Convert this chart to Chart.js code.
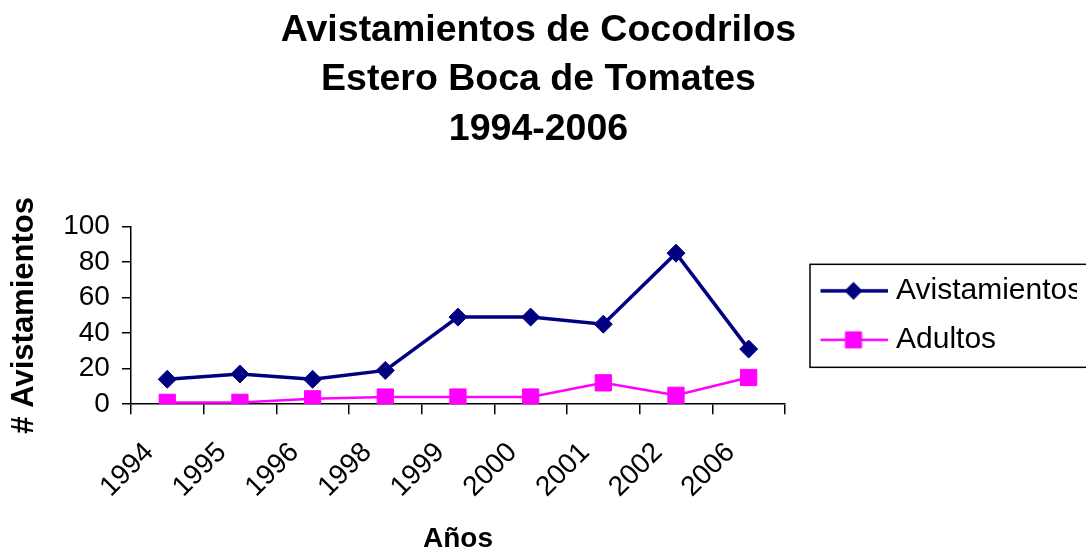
<!DOCTYPE html>
<html>
<head>
<meta charset="utf-8">
<script src="https://cdn.jsdelivr.net/npm/chart.js@4/dist/chart.umd.min.js"></script>
<style>
  html, body { margin: 0; padding: 0; background: #fff; overflow: hidden; }
  #wrap { position: relative; width: 1086px; height: 552px; }
</style>
</head>
<body>
<div id="wrap"><canvas id="c"></canvas></div>
<script>
const titleLines = ['Avistamientos de Cocodrilos', 'Estero Boca de Tomates', '1994-2006'];
const years = ['1994', '1995', '1996', '1998', '1999', '2000', '2001', '2002', '2006'];
const avistamientos = [14, 17, 14, 19, 49, 49, 45, 85, 31];
const adultos = [1, 1, 3, 4, 4, 4, 12, 5, 15];
const seriesNames = ['Avistamientos', 'Adultos'];
const yTicks = { min: 0, max: 100, step: 20 };
const xTitle = 'Años';
const yTitle = '# Avistamientos';

const FONT = '"Liberation Sans", Arial, sans-serif';
const NAVY = '#000080';
const MAGENTA = '#FF00FF';

function legendSwatch(color, kind) {
  const c = document.createElement('canvas');
  c.width = 90; c.height = 24;
  const g = c.getContext('2d');
  g.strokeStyle = color; g.fillStyle = color;
  g.lineWidth = kind === 'diamond' ? 3.5 : 2.5;
  g.beginPath(); g.moveTo(23, 12); g.lineTo(90, 12); g.stroke();
  const mx = 56, my = 12;
  g.beginPath();
  if (kind === 'diamond') {
    g.moveTo(mx - 9, my); g.lineTo(mx, my - 9); g.lineTo(mx + 9, my); g.lineTo(mx, my + 9);
  } else {
    g.rect(mx - 8.5, my - 8.5, 17, 17);
  }
  g.closePath(); g.fill();
  return c;
}
const swatches = [legendSwatch(NAVY, 'diamond'), legendSwatch(MAGENTA, 'square')];

const legendBorder = {
  id: 'legendBorder',
  afterDraw(chart) {
    const hb = chart.legend && chart.legend.legendHitBoxes;
    if (!hb || !hb.length) return;
    const left = Math.min(...hb.map(h => h.left)) + 6;
    const top = Math.min(...hb.map(h => h.top)) - 11.5;
    const bottom = Math.max(...hb.map(h => h.top + h.height)) + 12.5;
    const ctx = chart.ctx;
    ctx.save();
    ctx.strokeStyle = '#000';
    ctx.lineWidth = 1.5;
    ctx.strokeRect(left, top, chart.width + 20 - left, bottom - top);
    ctx.restore();
  }
};

new Chart(document.getElementById('c'), {
  type: 'line',
  data: {
    labels: years,
    datasets: [
      {
        label: seriesNames[0],
        data: avistamientos,
        borderColor: NAVY,
        backgroundColor: NAVY,
        borderWidth: 3.5,
        pointStyle: 'rectRot',
        pointRadius: 9,
        pointBorderWidth: 1,
        pointBackgroundColor: NAVY,
        pointBorderColor: NAVY,
        tension: 0
      },
      {
        label: seriesNames[1],
        data: adultos,
        borderColor: MAGENTA,
        backgroundColor: MAGENTA,
        borderWidth: 2.5,
        pointStyle: 'rect',
        pointRadius: 11.5,
        pointBorderWidth: 1,
        pointBackgroundColor: MAGENTA,
        pointBorderColor: MAGENTA,
        tension: 0
      }
    ]
  },
  options: {
    responsive: true,
    maintainAspectRatio: false,
    animation: false,
    layout: { padding: { left: 0, right: 9, top: 0, bottom: 0 } },
    plugins: {
      title: {
        display: true,
        text: titleLines,
        color: '#000',
        font: { family: FONT, size: 37.5, weight: 'bold', lineHeight: 1.32 },
        padding: { top: 5.5, bottom: 72.5 }
      },
      legend: {
        display: true,
        position: 'right',
        fullSize: false,
        maxWidth: 292,
        labels: {
          color: '#000',
          font: { family: FONT, size: 30 },
          padding: 19,
          usePointStyle: true,
          pointStyleWidth: 77,
          generateLabels(chart) {
            const items = Chart.defaults.plugins.legend.labels.generateLabels(chart);
            return items.map((it, i) => Object.assign(it, { pointStyle: swatches[i] }));
          }
        }
      },
      tooltip: { enabled: false }
    },
    scales: {
      x: {
        type: 'category',
        offset: true,
        grid: {
          display: true,
          offset: true,
          drawOnChartArea: false,
          drawTicks: true,
          tickLength: 10,
          color: '#000',
          lineWidth: 1.5
        },
        border: { display: true, color: '#000', width: 1.5 },
        ticks: {
          color: '#000',
          font: { family: FONT, size: 28 },
          minRotation: 45,
          maxRotation: 45,
          autoSkip: false,
          padding: 22,
          labelOffset: -18
        },
        title: {
          display: true,
          text: xTitle,
          color: '#000',
          font: { family: FONT, size: 28, weight: 'bold', lineHeight: 0.93 },
          padding: { top: 0, bottom: 0 }
        }
      },
      y: {
        min: yTicks.min,
        max: yTicks.max,
        grid: {
          display: true,
          drawOnChartArea: false,
          drawTicks: true,
          tickLength: 9,
          color: '#000',
          lineWidth: 1.5
        },
        border: { display: true, color: '#000', width: 1.5 },
        ticks: {
          stepSize: yTicks.step,
          autoSkip: false,
          color: '#000',
          font: { family: FONT, size: 28 },
          padding: 12
        },
        title: {
          display: true,
          text: yTitle,
          color: '#000',
          font: { family: FONT, size: 31, weight: 'bold', lineHeight: 1.2 },
          padding: { top: 6, bottom: 8 }
        }
      }
    }
  },
  plugins: [legendBorder]
});
</script>
</body>
</html>
